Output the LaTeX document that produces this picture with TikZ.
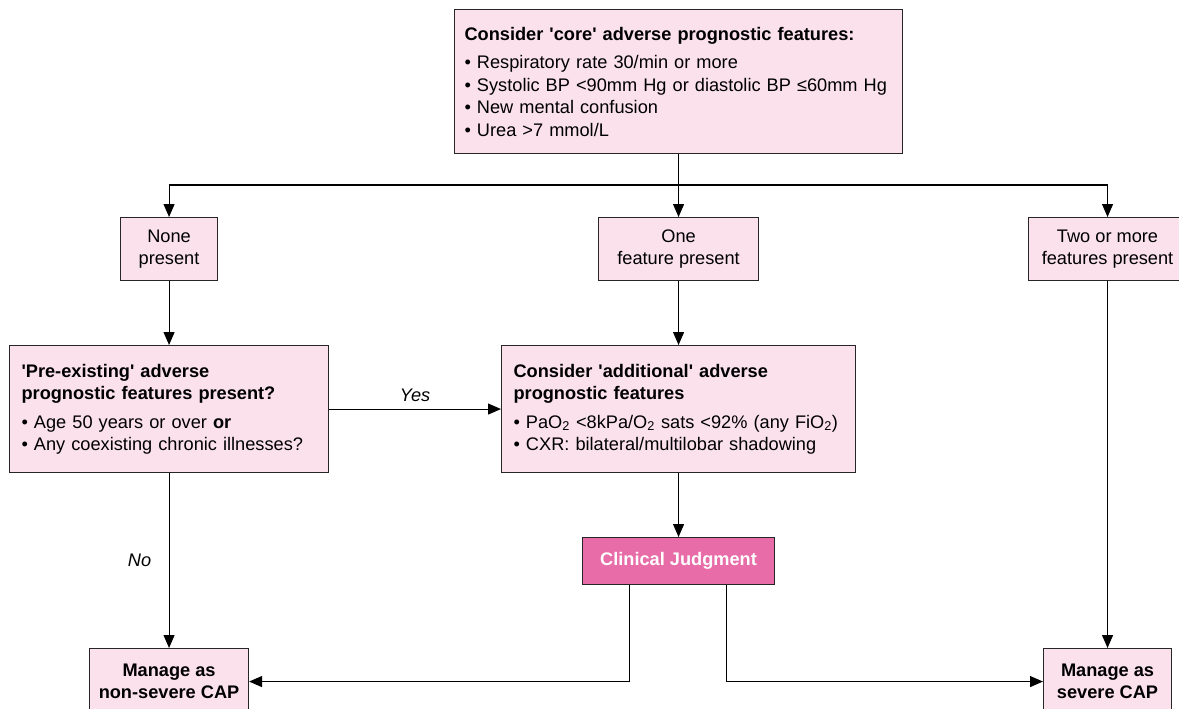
\documentclass[tikz,border=0pt]{standalone}
\usepackage{fontspec}
\setmainfont{Liberation Sans}[Ligatures=TeXOff]
\usetikzlibrary{arrows.meta}

\definecolor{palepink}{HTML}{FAE1EC}
\definecolor{hotpink}{HTML}{E86CA8}

\newcommand*\textsize{\fontsize{18.2}{22.5}\selectfont}
\tikzset{
    box/.style 2 args={
        draw=black!85,
        line width=1.1pt,
        fill=palepink,
        rectangle,
        anchor=north west,
        inner ysep=0pt,
        font=\textsize,
        minimum width=#1,
        minimum height=#2,
        align=center
    },
    listbox/.style 2 args={
        box={#1}{#2},
        inner xsep=12pt,
        text width={#1-24pt},
        align=left
    },
    arr/.style={
        line width=1.1pt,
        -{Triangle[length=13pt,width=11pt]}
    },
    lbl/.style={font=\textsize\itshape}
}

\begin{document}
\begin{tikzpicture}[x=1pt,y=-1pt]

    % Fix the page size.
    \useasboundingbox (0,0) rectangle (1179,709);

    % The core features.
    \node[listbox={448pt}{144pt}, inner xsep=10pt, text width=428pt] (core) at (454,9) {\textbf{Consider 'core' adverse prognostic features:}\\[6pt]
        • Respiratory rate 30/min or more\\
        • Systolic BP <90mm Hg or diastolic BP ≤60mm Hg\\
        • New mental confusion\\
        • Urea >7 mmol/L};

    % How many are present.
    \node[box={97pt}{63pt}] (none) at (120,217) {None\\present};
    \node[box={160pt}{63pt}] (one) at (598,217) {One\\feature present};
    \node[box={158pt}{63pt}] (more) at (1028,217) {Two or more\\features present};

    % Second row.
    \node[listbox={319pt}{127pt}] (preexist) at (9,345) {\textbf{'Pre-existing' adverse}\\
        \textbf{prognostic features present?}\\[6pt]
        • Age 50 years or over \textbf{or}\\
        • Any coexisting chronic illnesses?};
    \node[listbox={354pt}{127pt}] (extra) at (501,345) {\textbf{Consider 'additional' adverse}\\
        \textbf{prognostic features}\\[6pt]
        • PaO\textsubscript{2} <8kPa/O\textsubscript{2} sats <92\% (any FiO\textsubscript{2})\\
        • CXR: bilateral/multilobar shadowing};

    \node[box={192pt}{47pt}, fill=hotpink, text=white, font=\textsize\bfseries] (judge) at (582,537) {Clinical Judgment};

    % Outcomes.
    \node[box={159pt}{66pt}, font=\textsize\bfseries] (mild) at (89,648) {Manage as\\non-severe CAP};
    \node[box={128pt}{66pt}, font=\textsize\bfseries] (severe) at (1043,648) {Manage as\\severe CAP};

    % Draw the connectors.
    \coordinate (split) at (678,185);
    \draw[arr] (core) -- (one);
    \draw[arr] (split) -| (none.north);
    \draw[arr] (split) -| (more.north);

    \draw[arr] (none) -- (preexist);
    \draw[arr] (one) -- (extra);
    \draw[arr] (preexist) -- (extra) node[lbl, midway, above=3pt] {Yes};
    \draw[arr] (preexist) -- (mild) node[lbl, midway, left=14pt] {No};
    \draw[arr] (extra) -- (judge);
    \draw[arr] ([xshift=-49pt]judge.south) |- (mild.east);
    \draw[arr] ([xshift=48pt]judge.south) |- (severe.west);
    \draw[arr] (more) -- (severe);

\end{tikzpicture}
\end{document}
